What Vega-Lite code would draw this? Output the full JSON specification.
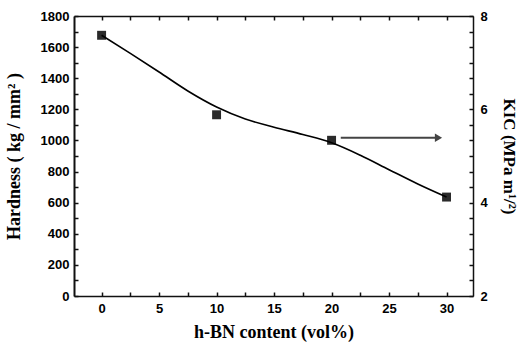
{
  "$schema": "https://vega.github.io/schema/vega-lite/v6.json",
  "width": 399,
  "height": 280,
  "config": {
    "axis": {
      "labelFont": "Liberation Sans",
      "labelFontWeight": "bold",
      "labelFontSize": 13,
      "labelColor": "black",
      "labelOverlap": false,
      "labelFlush": false,
      "titleFont": "Liberation Serif",
      "titleFontWeight": "bold",
      "titleFontSize": 18,
      "titleColor": "black",
      "domainColor": "#111111",
      "domainWidth": 1.5,
      "tickColor": "#111111",
      "tickWidth": 1.5,
      "gridOpacity": 0
    }
  },
  "datasets": {
    "curve": [
      {"hbn": 0, "hardness": 1676},
      {"hbn": 2.5, "hardness": 1560},
      {"hbn": 5, "hardness": 1440},
      {"hbn": 7.5, "hardness": 1318},
      {"hbn": 10, "hardness": 1215},
      {"hbn": 12.5, "hardness": 1138},
      {"hbn": 15, "hardness": 1085},
      {"hbn": 17.5, "hardness": 1038},
      {"hbn": 20, "hardness": 985},
      {"hbn": 22.5, "hardness": 905},
      {"hbn": 25, "hardness": 812},
      {"hbn": 27.5, "hardness": 720},
      {"hbn": 30, "hardness": 636}
    ],
    "points": [
      {"hbn": 0, "hardness": 1676},
      {"hbn": 10, "hardness": 1165},
      {"hbn": 20, "hardness": 1001},
      {"hbn": 30, "hardness": 636}
    ],
    "arrow": [
      {"x1": 20.8, "x2": 29.3, "kic": 5.39}
    ]
  },
  "layer": [
    {
      "data": {"name": "points"},
      "mark": {"type": "square", "size": 80, "color": "#2a2a2a", "opacity": 1},
      "encoding": {
        "x": {
          "field": "hbn", "type": "quantitative",
          "scale": {"domain": [-2.4, 32.3], "nice": false, "zero": false},
          "axis": {
            "title": "h-BN content (vol%)",
            "orient": "bottom",
            "values": [0, 2.5, 5, 7.5, 10, 12.5, 15, 17.5, 20, 22.5, 25, 27.5, 30],
            "labelExpr": "datum.value % 5 == 0 ? datum.value : ''",
            "tickSize": -4,
            "labelPadding": 10,
            "titlePadding": 8
          }
        },
        "y": {
          "field": "hardness", "type": "quantitative",
          "scale": {"domain": [0, 1800], "nice": false, "zero": false},
          "axis": {
            "title": "Hardness ( kg / mm² )",
            "orient": "left",
            "values": [0, 100, 200, 300, 400, 500, 600, 700, 800, 900, 1000, 1100, 1200, 1300, 1400, 1500, 1600, 1700, 1800],
            "labelExpr": "datum.value % 200 == 0 ? datum.value : ''",
            "tickSize": -4,
            "domainWidth": 2,
            "labelPadding": 9,
            "titlePadding": 17
          }
        }
      }
    },
    {
      "data": {"name": "curve"},
      "mark": {"type": "line", "interpolate": "monotone", "color": "black", "strokeWidth": 1.6},
      "encoding": {
        "x": {"field": "hbn", "type": "quantitative",
          "scale": {"domain": [-2.4, 32.3], "nice": false, "zero": false}, "axis": null},
        "y": {"field": "hardness", "type": "quantitative",
          "scale": {"domain": [0, 1800], "nice": false, "zero": false}, "axis": null}
      }
    },
    {
      "data": {"name": "arrow"},
      "mark": {"type": "rule", "color": "#444444", "strokeWidth": 2},
      "encoding": {
        "x": {
          "field": "x1", "type": "quantitative",
          "scale": {"domain": [-2.4, 32.3], "nice": false, "zero": false},
          "axis": {
            "orient": "top",
            "title": "",
            "labelExpr": "''",
            "values": [0, 2.5, 5, 7.5, 10, 12.5, 15, 17.5, 20, 22.5, 25, 27.5, 30],
            "tickSize": -4
          }
        },
        "x2": {"field": "x2"},
        "y": {
          "field": "kic", "type": "quantitative",
          "scale": {"domain": [2, 8], "nice": false, "zero": false},
          "axis": {
            "orient": "right",
            "title": "KIC (MPa m¹/²)",
            "titleAngle": 90,
            "titleFontSize": 17,
            "values": [2, 2.3333, 2.6667, 3, 3.3333, 3.6667, 4, 4.3333, 4.6667, 5, 5.3333, 5.6667, 6, 6.3333, 6.6667, 7, 7.3333, 7.6667, 8],
            "labelExpr": "abs(datum.value - round(datum.value)) < 0.01 && round(datum.value) % 2 == 0 ? round(datum.value) : ''",
            "tickSize": -4,
            "labelPadding": 11,
            "titlePadding": 12
          }
        }
      }
    },
    {
      "data": {"name": "arrow"},
      "mark": {"type": "point", "shape": "triangle-right", "filled": true, "size": 70, "color": "#444444", "opacity": 1},
      "encoding": {
        "x": {"field": "x2", "type": "quantitative",
          "scale": {"domain": [-2.4, 32.3], "nice": false, "zero": false}, "axis": null},
        "y": {"field": "kic", "type": "quantitative",
          "scale": {"domain": [2, 8], "nice": false, "zero": false}, "axis": null}
      }
    }
  ],
  "resolve": {
    "scale": {"x": "independent", "y": "independent"},
    "axis": {"x": "independent", "y": "independent"}
  }
}
